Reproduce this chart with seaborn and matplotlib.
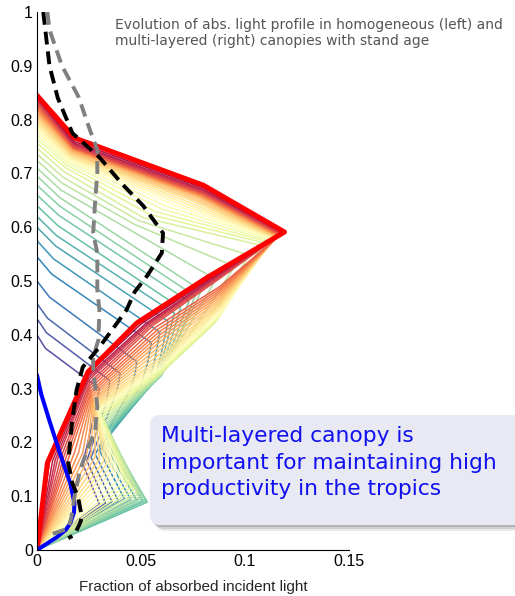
import numpy as np
import pandas as pd
import matplotlib
matplotlib.use('Agg')
import matplotlib.pyplot as plt
import matplotlib.transforms as mtransforms
from matplotlib.patches import FancyBboxPatch
import seaborn as sns

# stand age (0 = young, 1 = old), one light profile per age
ages = [i / 40 for i in range(41)]

# canopy top (x = 0) of each profile
top_y = [0.400, 0.430, 0.458, 0.500, 0.545, 0.575, 0.600, 0.620, 0.640, 0.660, 0.678,
         0.695, 0.710, 0.724, 0.736, 0.747, 0.756, 0.764, 0.771, 0.777, 0.782,
         0.786, 0.790, 0.794, 0.798, 0.802, 0.806, 0.810, 0.813, 0.816, 0.819,
         0.822, 0.825, 0.828, 0.831, 0.834, 0.836, 0.838, 0.840, 0.8425, 0.845]
# kink just below the top
kink_x = [0.004, 0.0045, 0.005, 0.006, 0.007, 0.008, 0.009, 0.0095, 0.010, 0.0105, 0.011,
          0.011, 0.0115, 0.012, 0.0125, 0.013, 0.0135, 0.014, 0.0145, 0.015, 0.015,
          0.0153, 0.0156, 0.0159, 0.0162, 0.0165, 0.0167, 0.0169, 0.0171, 0.0172, 0.0173,
          0.0174, 0.0175, 0.0176, 0.0177, 0.0178, 0.0178, 0.0179, 0.0179, 0.018, 0.018]
kink_y = [0.375, 0.404, 0.431, 0.470, 0.513, 0.541, 0.565, 0.584, 0.603, 0.622, 0.639,
          0.655, 0.669, 0.682, 0.693, 0.703, 0.711, 0.716, 0.720, 0.723, 0.726,
          0.728, 0.730, 0.732, 0.734, 0.736, 0.738, 0.740, 0.742, 0.744, 0.745,
          0.746, 0.747, 0.748, 0.749, 0.7505, 0.752, 0.754, 0.756, 0.759, 0.766]
# upper knee between kink and peak
upper_x = [0.017, 0.0198, 0.0225, 0.027, 0.031, 0.0335, 0.036, 0.0378, 0.0395, 0.0418, 0.0435,
           0.045, 0.046, 0.047, 0.049, 0.051, 0.054, 0.057, 0.060, 0.063, 0.066,
           0.068, 0.070, 0.072, 0.074, 0.075, 0.076, 0.077, 0.078, 0.0785, 0.079,
           0.0793, 0.0796, 0.0798, 0.080, 0.080, 0.080, 0.080, 0.080, 0.080, 0.080]
upper_y = [0.3375, 0.3595, 0.3795, 0.410, 0.449, 0.473, 0.495, 0.512, 0.5265, 0.542, 0.5555,
           0.5685, 0.592, 0.605, 0.612, 0.618, 0.624, 0.629, 0.634, 0.638, 0.641,
           0.644, 0.646, 0.648, 0.650, 0.652, 0.654, 0.656, 0.657, 0.658, 0.659,
           0.660, 0.661, 0.662, 0.663, 0.6645, 0.666, 0.668, 0.670, 0.673, 0.678]
# main absorption peak
peak_x = [0.030, 0.035, 0.040, 0.048, 0.055, 0.059, 0.063, 0.066, 0.069, 0.073, 0.076,
          0.079, 0.086, 0.095, 0.102, 0.108, 0.110, 0.111, 0.112, 0.113, 0.1135,
          0.114, 0.1143, 0.1145, 0.1148, 0.115, 0.1153, 0.1155, 0.1158, 0.116, 0.1163,
          0.1165, 0.1168, 0.117, 0.1173, 0.1175, 0.1178, 0.118, 0.1183, 0.1187, 0.119]
peak_y = [0.300, 0.315, 0.328, 0.350, 0.385, 0.405, 0.425, 0.440, 0.450, 0.462, 0.472,
          0.482, 0.503, 0.527, 0.548, 0.566, 0.570, 0.573, 0.575, 0.577, 0.578,
          0.579, 0.5796, 0.5802, 0.5808, 0.5814, 0.582, 0.5826, 0.5832, 0.5838, 0.5844,
          0.585, 0.5856, 0.5862, 0.5868, 0.5874, 0.588, 0.5886, 0.5892, 0.5900, 0.591]
# shoulder below the peak
shoulder_x = [0.029, 0.034, 0.039, 0.047, 0.053, 0.057, 0.060, 0.062, 0.064, 0.066, 0.068,
              0.069, 0.072, 0.077, 0.081, 0.085, 0.086, 0.087, 0.087, 0.0875, 0.088,
              0.088, 0.088, 0.088, 0.088, 0.088, 0.088, 0.088, 0.088, 0.088, 0.088,
              0.088, 0.088, 0.088, 0.088, 0.0875, 0.087, 0.0865, 0.086, 0.085, 0.082]
shoulder_y = [0.280, 0.290, 0.305, 0.325, 0.345, 0.360, 0.370, 0.380, 0.385, 0.390, 0.395,
              0.400, 0.410, 0.420, 0.420, 0.420, 0.425, 0.430, 0.433, 0.437, 0.440,
              0.444, 0.448, 0.451, 0.455, 0.458, 0.462, 0.466, 0.470, 0.474, 0.478,
              0.482, 0.486, 0.490, 0.505, 0.506, 0.507, 0.508, 0.509, 0.509, 0.507]
# middle layer
mid_x = [0.028, 0.033, 0.037, 0.045, 0.050, 0.054, 0.057, 0.058, 0.0585, 0.059, 0.0595,
         0.060, 0.060, 0.060, 0.060, 0.060, 0.060, 0.060, 0.060, 0.060, 0.060,
         0.060, 0.060, 0.060, 0.060, 0.060, 0.060, 0.060, 0.060, 0.0595, 0.059,
         0.0585, 0.058, 0.057, 0.056, 0.055, 0.054, 0.053, 0.052, 0.050, 0.048]
mid_y = [0.260, 0.270, 0.280, 0.300, 0.305, 0.312, 0.318, 0.320, 0.321, 0.322, 0.323,
         0.325, 0.326, 0.327, 0.328, 0.330, 0.332, 0.335, 0.337, 0.339, 0.342,
         0.346, 0.350, 0.355, 0.360, 0.367, 0.375, 0.382, 0.390, 0.395, 0.400,
         0.405, 0.410, 0.414, 0.418, 0.419, 0.420, 0.420, 0.420, 0.420, 0.422]
# notch (local minimum) in the lower canopy
notch_x = [0.022, 0.024, 0.026, 0.028, 0.030, 0.031, 0.032, 0.0325, 0.033, 0.033, 0.033,
           0.033, 0.033, 0.0325, 0.032, 0.0315, 0.031, 0.0305, 0.030, 0.0295, 0.029,
           0.0288, 0.0285, 0.0282, 0.028, 0.0277, 0.0275, 0.0272, 0.027, 0.0267, 0.0265,
           0.0262, 0.026, 0.0257, 0.0255, 0.0253, 0.025, 0.0249, 0.0248, 0.0246, 0.0245]
notch_y = [0.160, 0.166, 0.172, 0.178, 0.185, 0.193, 0.200, 0.207, 0.215, 0.220, 0.225,
           0.230, 0.235, 0.239, 0.243, 0.247, 0.250, 0.253, 0.255, 0.258, 0.260,
           0.262, 0.264, 0.266, 0.268, 0.271, 0.274, 0.277, 0.280, 0.284, 0.288,
           0.292, 0.296, 0.301, 0.306, 0.311, 0.316, 0.320, 0.324, 0.328, 0.331]
# understorey tip
tip_x = [0.030, 0.033, 0.036, 0.039, 0.042, 0.045, 0.048, 0.051, 0.053, 0.0525, 0.052,
         0.051, 0.050, 0.049, 0.048, 0.0465, 0.045, 0.0435, 0.042, 0.040, 0.038,
         0.0365, 0.035, 0.0335, 0.032, 0.030, 0.028, 0.026, 0.024, 0.022, 0.020,
         0.018, 0.016, 0.0145, 0.013, 0.0115, 0.010, 0.0088, 0.0075, 0.006, 0.005]
tip_y = [0.085, 0.087, 0.090, 0.092, 0.095, 0.094, 0.092, 0.090, 0.089, 0.092, 0.095,
         0.098, 0.100, 0.104, 0.107, 0.111, 0.115, 0.121, 0.127, 0.133, 0.140,
         0.147, 0.153, 0.159, 0.165, 0.169, 0.173, 0.177, 0.180, 0.181, 0.181,
         0.181, 0.180, 0.178, 0.175, 0.172, 0.170, 0.168, 0.166, 0.164, 0.162]

# youngest and oldest profiles (highlighted)
young_x = [0, 0.0096, 0.014, 0.016, 0.0178, 0.018, 0.016, 0.011, 0.006, 0.002, 0]
young_y = [0, 0.024, 0.038, 0.050, 0.070, 0.087, 0.124, 0.180, 0.240, 0.290, 0.325]
old_x = [0, 0.005, 0.0245, 0.048, 0.082, 0.119, 0.080, 0.018, 0]
old_y = [0, 0.162, 0.331, 0.422, 0.507, 0.591, 0.678, 0.766, 0.845]

# dashed reference profiles
black_x = [0.003, 0.006, 0.010, 0.017, 0.030, 0.041, 0.051, 0.0606, 0.060, 0.053, 0.047,
           0.043, 0.0385, 0.030, 0.022, 0.019, 0.0168, 0.015, 0.017, 0.0197, 0.0216,
           0.0207, 0.018, 0.015]
black_y = [1.0, 0.90, 0.84, 0.775, 0.73, 0.68, 0.64, 0.589, 0.552, 0.51, 0.48,
           0.446, 0.422, 0.377, 0.34, 0.297, 0.236, 0.162, 0.124, 0.099, 0.061,
           0.05, 0.028, 0.022]
grey_x = [0.005, 0.006, 0.012, 0.020, 0.0255, 0.029, 0.029, 0.028, 0.027, 0.029, 0.029,
          0.030, 0.0295, 0.027, 0.027, 0.028, 0.029, 0.028, 0.0247, 0.0207, 0.018,
          0.0165, 0.015, 0.006]
grey_y = [1.0, 0.967, 0.90, 0.842, 0.78, 0.744, 0.70, 0.65, 0.589, 0.552, 0.483,
          0.446, 0.39, 0.359, 0.335, 0.303, 0.266, 0.223, 0.191, 0.149, 0.099,
          0.06, 0.04, 0.028]

# long table for seaborn: one unit per age, vertices bottom to top
rows = []
for i, a in enumerate(ages):
    xs = [0, tip_x[i], notch_x[i], mid_x[i], shoulder_x[i], peak_x[i], upper_x[i], kink_x[i], 0]
    ys = [0, tip_y[i], notch_y[i], mid_y[i], shoulder_y[i], peak_y[i], upper_y[i], kink_y[i], top_y[i]]
    for k, (xv, yv) in enumerate(zip(xs, ys)):
        rows.append({'age': a, 'k': k, 'x': xv, 'y': yv})
profiles = pd.DataFrame(rows)

sns.set_style('white')
plt.rcParams['font.family'] = ['Liberation Sans', 'DejaVu Sans']

fig = plt.figure(figsize=(5.15, 5.96), dpi=100)
ax = fig.add_axes([37/515, 46/596, 312/515, 538/596])

sns.lineplot(data=profiles, x='x', y='y', hue='age', units='age', estimator=None,
             sort=False, palette='Spectral_r', lw=1.1, legend=False, ax=ax)

# single polylines: no aggregation over repeated x
single = dict(sort=False, estimator=None, errorbar=None, ax=ax)
sns.lineplot(x=old_x, y=old_y, color='red', lw=3.6, **single)
sns.lineplot(x=young_x, y=young_y, color='blue', lw=2.9, **single)
sns.lineplot(x=grey_x, y=grey_y, color='#808080', lw=2.8,
             linestyle=(0, (3.3, 1.8)), **single)
sns.lineplot(x=black_x, y=black_y, color='black', lw=2.8,
             linestyle=(0, (3.3, 1.8)), **single)

ax.set_xlim(0, 0.15)
ax.set_ylim(0, 1)
ax.set_xticks([0, 0.05, 0.1, 0.15])
ax.set_xticklabels(['0', '0.05', '0.1', '0.15'])
ax.set_yticks(np.arange(0, 1.01, 0.1))
ax.set_yticklabels(['0'] + ['%.1f' % v for v in np.arange(0.1, 0.95, 0.1)] + ['1'])
ax.tick_params(direction='in', length=4, width=0.8, labelsize=11.5, pad=3, colors='black')
ax.set_xlabel('Fraction of absorbed incident light', fontsize=11, labelpad=8)
ax.set_ylabel('')
sns.despine(ax=ax)
for s in ['left', 'bottom']:
    ax.spines[s].set_color('black')
    ax.spines[s].set_linewidth(0.8)

fig.text(115/515, 1 - 18/596,
         'Evolution of abs. light profile in homogeneous (left) and\n'
         'multi-layered (right) canopies with stand age',
         ha='left', va='top', fontsize=10, color='#555555', linespacing=1.22,
         family='DejaVu Sans')

# callout box with soft shadow (pixel coordinates)
ident = mtransforms.IdentityTransform()
for off, al in [(6, 0.10), (4, 0.14), (2, 0.18)]:
    fig.add_artist(FancyBboxPatch((150 + off, 596 - 525 - off), 380, 110,
                                  boxstyle='round,pad=0,rounding_size=10',
                                  fc='#333344', ec='none', alpha=al, transform=ident))
fig.add_artist(FancyBboxPatch((150, 596 - 525), 380, 110,
                              boxstyle='round,pad=0,rounding_size=10',
                              fc='#e9e9f3', ec='none', transform=ident))
fig.text(161/515, 1 - 426/596,
         'Multi-layered canopy is\nimportant for maintaining high\nproductivity in the tropics',
         ha='left', va='top', fontsize=15.7, color='#1010f0', linespacing=1.42,
         family='DejaVu Sans')

fig.savefig('out.png', dpi=100)
